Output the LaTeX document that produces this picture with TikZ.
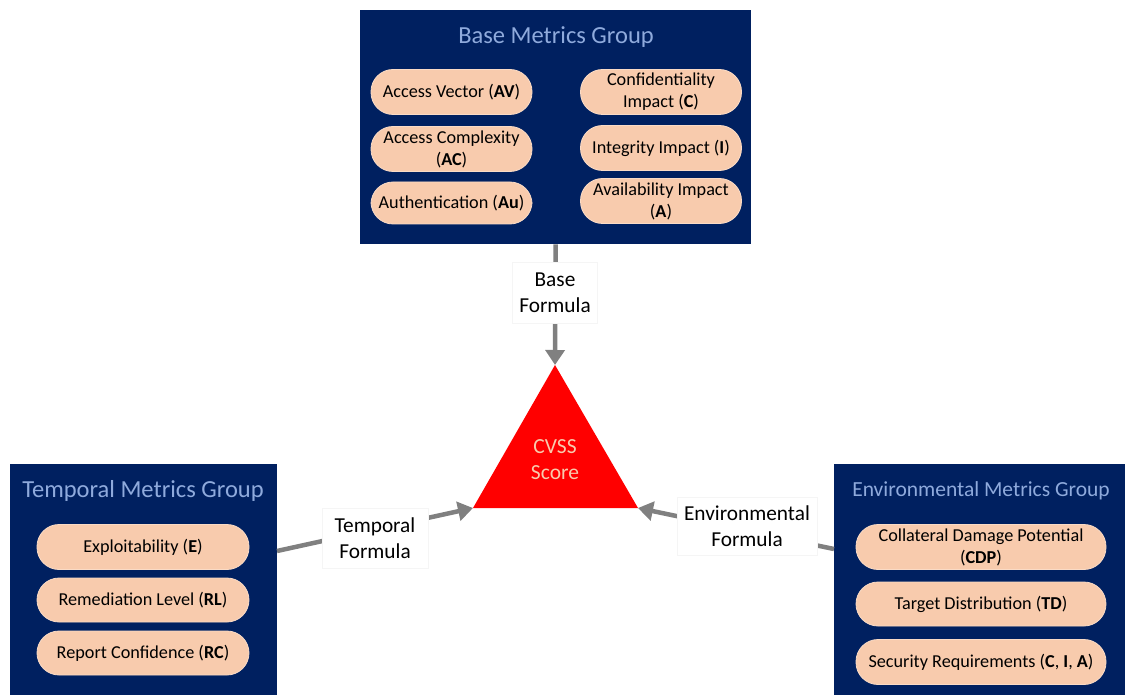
\documentclass[tikz,border=0pt]{standalone}
\usepackage{fontspec}
\setmainfont{Carlito}
\usetikzlibrary{arrows.meta}
\definecolor{navy}{HTML}{002060}
\definecolor{pill}{HTML}{F8CBAD}
\definecolor{titleblue}{HTML}{8FAADC}
\definecolor{conn}{HTML}{808080}
\begin{document}
\begin{tikzpicture}[x=1pt,y=-1pt,
  group/.style={fill=navy, draw=none, anchor=north west, inner sep=0pt},
  gtitle/.style={text=titleblue, font=\fontsize{24.5}{28}\selectfont, inner sep=0pt},
  metric/.style={fill=pill, draw=pill!70!white, line width=0.8pt, rounded corners=22pt,
    minimum height=45pt, align=center, inner sep=1pt,
    font=\fontsize{18.2}{22}\selectfont},
  formula/.style={fill=white, draw=black!4, align=center, inner sep=4pt,
    font=\fontsize{21.3}{26}\selectfont},
  link/.style={draw=conn, line width=4.5pt},
  tip/.style={-{Triangle[length=15pt,width=19pt]}}
]
\useasboundingbox (0,0) rectangle (1125,695);

% ---- Base metrics group ----
\node[group, minimum width=391pt, minimum height=234pt] (base) at (360,10) {};
\node[gtitle] (basettl) at (556,37) {Base Metrics Group};
\node[metric, minimum width=161pt] (av) at (451.5,92) {Access Vector (\textbf{AV})};
\node[metric, minimum width=161pt] (ac) at (451.5,149) {Access Complexity\\(\textbf{AC})};
\node[metric, minimum width=161pt, minimum height=42pt] (au) at (451.5,203) {Authentication (\textbf{Au})};
\node[metric, minimum width=161pt] (ci) at (661,92) {Confidentiality\\Impact (\textbf{C})};
\node[metric, minimum width=161pt] (ii) at (661,148) {Integrity Impact (\textbf{I})};
\node[metric, minimum width=161pt] (ai) at (661,201) {Availability Impact\\(\textbf{A})};

% ---- Temporal metrics group ----
\node[group, minimum width=267pt, minimum height=231pt] (temp) at (10,464) {};
\node[gtitle] (tempttl) at (143,491) {Temporal Metrics Group};
\node[metric, minimum width=212pt] (ex) at (143,547) {Exploitability (\textbf{E})};
\node[metric, minimum width=212pt, minimum height=44pt] (rl) at (143,600) {Remediation Level (\textbf{RL})};
\node[metric, minimum width=212pt, minimum height=44pt] (rc) at (143,653) {Report Confidence (\textbf{RC})};

% ---- Environmental metrics group ----
\node[group, minimum width=291pt, minimum height=231pt] (env) at (834,464) {};
\node[gtitle, font=\fontsize{21.5}{26}\selectfont] (envttl) at (981,491) {Environmental Metrics Group};
\node[metric, minimum width=250pt] (cdp) at (981,547) {Collateral Damage Potential\\(\textbf{CDP})};
\node[metric, minimum width=250pt, minimum height=44pt] (td) at (981,604) {Target Distribution (\textbf{TD})};
\node[metric, minimum width=250pt] (sr) at (981,662) {Security Requirements (\textbf{C}, \textbf{I}, \textbf{A})};

% ---- CVSS score triangle ----
\coordinate (apex) at (555,365);
\coordinate (lcorner) at (473,508);
\coordinate (rcorner) at (638,508);
\fill[red] (apex) -- (lcorner) -- (rcorner) -- cycle;
\node[text=pill, align=center, font=\fontsize{21.5}{26}\selectfont] (score) at (555,460) {CVSS\\Score};

% ---- Formula connectors ----
\coordinate (bstart) at (base.south);
\coordinate (tstart) at (277,551);
\coordinate (estart) at (834,549);
\draw[link, tip] (bstart) -- (apex);
\draw[link, tip] (tstart) -- (lcorner);
\draw[link, tip] (estart) -- (rcorner);

\node[formula, minimum width=85pt, minimum height=61pt] (bform) at (555,293) {Base\\Formula};
\node[formula, minimum width=106pt, minimum height=60pt] (tform) at (375,538) {Temporal\\Formula};
\node[formula, minimum width=140pt, minimum height=58pt] (eform) at (747,526) {Environmental\\Formula};
\end{tikzpicture}
\end{document}
